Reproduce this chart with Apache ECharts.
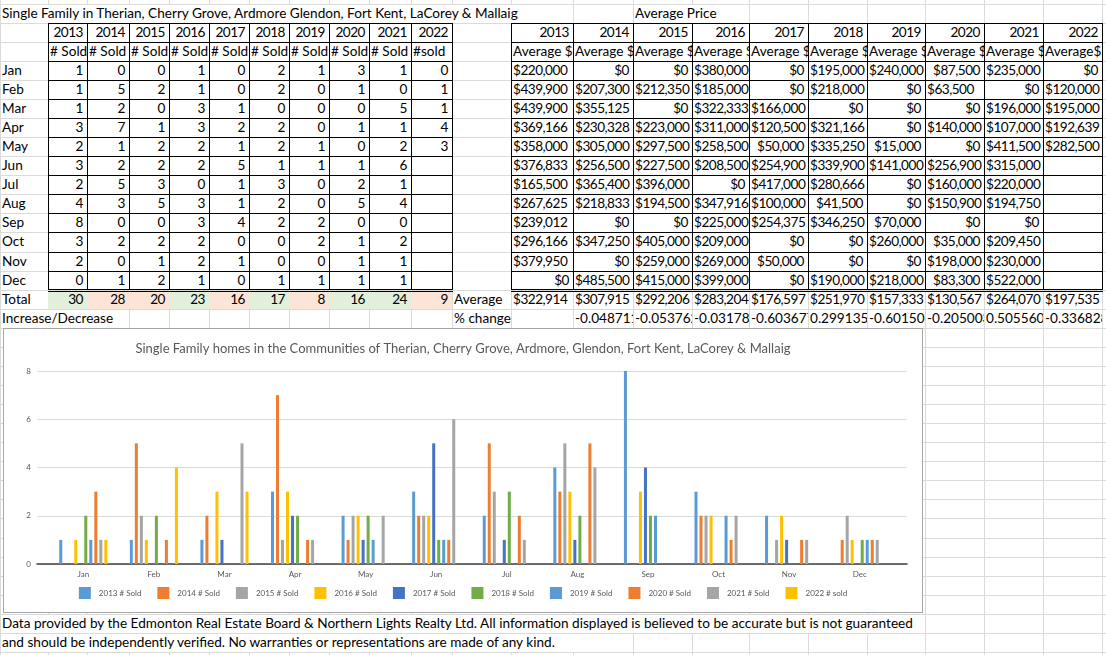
<!doctype html>
<html>
<head>
<meta charset="utf-8">
<style>
  html, body { margin: 0; padding: 0; background: #fff; }
  #sheet { position: relative; width: 1106px; height: 655px; overflow: hidden; font-family: Lato, sans-serif; font-size: 13.6px; color: #000; }
  .ln { position: absolute; }
  .c { position: absolute; white-space: nowrap; overflow: hidden; line-height: 17px; box-sizing: border-box; padding: 0 4px 0 1px; }
  .n { letter-spacing: -0.5px; }
  #frame { position: absolute; left: 3px; top: 328px; width: 920px; height: 285px; border: 1px solid #a6a6a6; box-sizing: border-box; background: #fff; }
  #main { width: 918px; height: 283px; }
</style>
</head>
<body>
<div id="sheet"><div id="frame"><div id="main"></div></div></div>
<script src="https://cdn.jsdelivr.net/npm/echarts@6/dist/echarts.min.js"></script>
<script>
var sheetTitle = 'Single Family in Therian, Cherry Grove, Ardmore Glendon, Fort Kent, LaCorey & Mallaig';
var chartTitle = 'Single Family homes in the Communities of Therian, Cherry Grove, Ardmore, Glendon, Fort Kent, LaCorey & Mallaig';
var footer1 = 'Data provided by the Edmonton Real Estate Board & Northern Lights Realty Ltd. All information displayed is believed to be accurate but is not guaranteed';
var footer2 = 'and should be independently verified. No warranties or representations are made of any kind.';

var months = ['Jan', 'Feb', 'Mar', 'Apr', 'May', 'Jun', 'Jul', 'Aug', 'Sep', 'Oct', 'Nov', 'Dec'];
var years = [2013, 2014, 2015, 2016, 2017, 2018, 2019, 2020, 2021, 2022];
var soldHeader = ['# Sold', '# Sold', '# Sold', '# Sold', '# Sold', '# Sold', '# Sold', '# Sold', '# Sold', '#sold'];
var priceHeader = ['Average $', 'Average $', 'Average $', 'Average $', 'Average $', 'Average $', 'Average $', 'Average $', 'Average $', 'Average$'];

// # sold per month (null = empty cell)
var sold2013 = [1, 1, 1, 3, 2, 3, 2, 4, 8, 3, 2, 0];
var sold2014 = [0, 5, 2, 7, 1, 2, 5, 3, 0, 2, 0, 1];
var sold2015 = [0, 2, 0, 1, 2, 2, 3, 5, 0, 2, 1, 2];
var sold2016 = [1, 1, 3, 3, 2, 2, 0, 3, 3, 2, 2, 1];
var sold2017 = [0, 0, 1, 2, 1, 5, 1, 1, 4, 0, 1, 0];
var sold2018 = [2, 2, 0, 2, 2, 1, 3, 2, 2, 0, 0, 1];
var sold2019 = [1, 0, 0, 0, 1, 1, 0, 0, 2, 2, 0, 1];
var sold2020 = [3, 1, 0, 1, 0, 1, 2, 5, 0, 1, 1, 1];
var sold2021 = [1, 0, 5, 1, 2, 6, 1, 4, 0, 2, 1, 1];
var sold2022 = [0, 1, 1, 4, 3, null, null, null, null, null, null, null];
// the chart's "2022 # sold" series does not follow the table column
var chartSold2022 = [1, 4, 3, 0, 0, 0, 0, 0, 0, 0, 0, 0];

// average price per month: strings are text cells (left), numbers are number cells (right)
var price2013 = ['$220,000', '$439,900', '$439,900', '$369,166', '$358,000', '$376,833', '$165,500', '$267,625', '$239,012', '$296,166', '$379,950', 0];
var price2014 = [0, '$207,300', '$355,125', '$230,328', '$305,000', '$256,500', '$365,400', '$218,833', 0, '$347,250', 0, '$485,500'];
var price2015 = [0, '$212,350', 0, '$223,000', '$297,500', '$227,500', '$396,000', '$194,500', 0, '$405,000', '$259,000', '$415,000'];
var price2016 = ['$380,000', '$185,000', '$322,333', '$311,000', '$258,500', '$208,500', 0, '$347,916', '$225,000', '$209,000', '$269,000', '$399,000'];
var price2017 = [0, 0, '$166,000', '$120,500', 50000, '$254,900', '$417,000', '$100,000', '$254,375', 0, 50000, 0];
var price2018 = ['$195,000', '$218,000', 0, '$321,166', '$335,250', '$339,900', '$280,666', 41500, '$346,250', 0, 0, '$190,000'];
var price2019 = ['$240,000', 0, 0, 0, 15000, '$141,000', 0, 0, 70000, '$260,000', 0, '$218,000'];
var price2020 = [87500, '$63,500', 0, '$140,000', 0, '$256,900', '$160,000', '$150,900', 0, 35000, '$198,000', 83300];
var price2021 = ['$235,000', 0, '$196,000', '$107,000', '$411,500', '$315,000', '$220,000', '$194,750', 0, '$209,450', '$230,000', '$522,000'];
var price2022 = [0, '$120,000', '$195,000', '$192,639', '$282,500', null, null, null, null, null, null, null];

var avgPrice = ['$322,914', '$307,915', '$292,206', '$283,204', '$176,597', '$251,970', '$157,333', '$130,567', '$264,070', '$197,535'];
var pctChange = [null, '-0.048711', '-0.053762', '-0.031783', '-0.603677', '0.299135', '-0.601505', '-0.205003', '0.505560', '-0.336828'];

var soldCols = [sold2013, sold2014, sold2015, sold2016, sold2017, sold2018, sold2019, sold2020, sold2021, sold2022];
var priceCols = [price2013, price2014, price2015, price2016, price2017, price2018, price2019, price2020, price2021, price2022];
var chartCols = [sold2013, sold2014, sold2015, sold2016, sold2017, sold2018, sold2019, sold2020, sold2021, chartSold2022];

// ---- spreadsheet ----
var sheet = document.getElementById('sheet');
var frame = document.getElementById('frame');
var colX = [0, 48, 87, 129, 169, 209, 249, 289, 329, 369, 411, 452, 511, 573, 633, 692, 749, 808, 867, 925, 984, 1043, 1102, 1161];

function rowTop(r) { return Math.round(3.6 + 19.07 * r); }

function box(x, y, w, h, bg) {
    var d = document.createElement('div');
    d.className = 'ln';
    d.style.cssText = 'left:' + x + 'px;top:' + y + 'px;width:' + w + 'px;height:' + h + 'px;background:' + bg;
    sheet.insertBefore(d, frame);
}

function cell(c, r, text, align, span, bg, numeric) {
    span = span || 1;
    var d = document.createElement('div');
    var top = rowTop(r) + 1;
    d.className = numeric ? 'c n' : 'c';
    d.style.left = (colX[c] + 1) + 'px';
    d.style.top = top + 'px';
    d.style.width = (colX[c + span] - colX[c] - 1) + 'px';
    d.style.height = (rowTop(r + 1) - top) + 'px';
    d.style.textAlign = align;
    if (bg) d.style.background = bg;
    d.textContent = text;
    sheet.insertBefore(d, frame);
}

function priceCell(c, r, v) {
    if (v === null || v === undefined) return;
    if (typeof v === 'number') cell(c, r, '$' + v.toLocaleString('en-US'), 'right', 1, null, true);
    else cell(c, r, v, 'left', 1, null, true);
}

// gridlines
for (var r = -1; r <= 35; r++) box(0, rowTop(r), 1106, 1, '#dadada');
colX.forEach(function (x) { box(x, 0, 1, 655, '#dadada'); });

// totals with increase / decrease fill
var totals = soldCols.map(function (col) {
    return col.reduce(function (s, v) { return s + (v || 0); }, 0);
});
totals.forEach(function (t, k) {
    var up = k === 0 || t > totals[k - 1];
    box(colX[1 + k], rowTop(15) + 2, colX[2 + k] - colX[1 + k], rowTop(16) - rowTop(15) - 2, up ? '#e2efda' : '#fce4d6');
});

// black cell borders, double line under Dec
function borders(c0, c1, r0, r1) {
    var w = colX[c1] - colX[c0] + 1;
    for (var r = r0; r < r1; r++) box(colX[c0], rowTop(r), w, 1, '#000');
    for (var c = c0; c <= c1; c++) box(colX[c], rowTop(r0), 1, rowTop(r1) - rowTop(r0), '#000');
    box(colX[c0], rowTop(r1) - 1, w, 1, '#000');
    box(colX[c0], rowTop(r1) + 1, w, 1, '#000');
}
borders(1, 11, 1, 15);
borders(12, 22, 1, 15);

// texts
cell(0, 0, sheetTitle, 'left', 13, '#fff');
cell(14, 0, 'Average Price', 'left', 2, '#fff');
years.forEach(function (y, k) {
    cell(1 + k, 1, String(y), 'right', 1, null, true);
    cell(12 + k, 1, String(y), 'right', 1, null, true);
    cell(1 + k, 2, soldHeader[k], 'left');
    cell(12 + k, 2, priceHeader[k], 'left');
});
months.forEach(function (m, i) {
    cell(0, 3 + i, m, 'left');
    soldCols.forEach(function (col, k) {
        if (col[i] !== null) cell(1 + k, 3 + i, String(col[i]), 'right', 1, null, true);
    });
    priceCols.forEach(function (col, k) { priceCell(12 + k, 3 + i, col[i]); });
});
cell(0, 15, 'Total', 'left');
totals.forEach(function (t, k) { cell(1 + k, 15, String(t), 'right', 1, null, true); });
cell(11, 15, 'Average', 'left');
avgPrice.forEach(function (v, k) { cell(12 + k, 15, v, 'left', 1, null, true); });
cell(0, 16, 'Increase/Decrease', 'left', 3, '#fff');
cell(11, 16, '% change', 'left');
pctChange.forEach(function (v, k) { if (v !== null) cell(12 + k, 16, v, 'left'); });
cell(0, 32, footer1, 'left', 19, '#fff');
cell(0, 33, footer2, 'left', 14, '#fff');

// ---- chart ----
var chart = echarts.init(document.getElementById('main'));
var colors = ['#5b9bd5', '#ed7d31', '#a5a5a5', '#ffc000', '#4472c4', '#70ad47', '#5b9bd5', '#ed7d31', '#a5a5a5', '#ffc000'];
var labelStyle = { color: '#595959', fontSize: 8, fontFamily: 'Lato' };

chart.setOption({
    animation: false,
    title: {
        text: chartTitle,
        left: 'center',
        top: 13,
        padding: 0,
        textStyle: { color: '#595959', fontSize: 13, fontWeight: 'normal', fontFamily: 'Lato' }
    },
    legend: {
        top: 258,
        left: 'center',
        padding: 0,
        icon: 'rect',
        itemWidth: 12,
        itemHeight: 12,
        itemGap: 16,
        textStyle: { color: '#595959', fontSize: 8, fontFamily: 'Lato', padding: [0, 0, 0, 3] }
    },
    grid: [
        { left: 33, right: 15, top: 42, bottom: 48 },
        { left: 44, right: 27, top: 42, bottom: 48 }
    ],
    xAxis: [{
        gridIndex: 0,
        type: 'value',
        min: 0,
        max: 1,
        axisLine: { show: true, lineStyle: { color: '#404040', width: 1.5 } },
        axisTick: { show: false },
        axisLabel: { show: false },
        splitLine: { show: false }
    }, {
        gridIndex: 1,
        type: 'category',
        data: months,
        axisLine: { show: false },
        axisTick: { show: false },
        axisLabel: Object.assign({ margin: 6 }, labelStyle)
    }],
    yAxis: [{
        gridIndex: 0,
        type: 'value',
        min: 0,
        max: 8,
        interval: 2,
        axisLine: { show: false },
        axisTick: { show: false },
        axisLabel: Object.assign({ margin: 6 }, labelStyle),
        splitLine: { lineStyle: { color: '#d9d9d9' } }
    }, {
        gridIndex: 1,
        type: 'value',
        min: 0,
        max: 8,
        interval: 2,
        show: false
    }],
    series: chartCols.map(function (col, k) {
        return {
            name: years[k] + (years[k] === 2022 ? ' # sold' : ' # Sold'),
            type: 'bar',
            xAxisIndex: 1,
            yAxisIndex: 1,
            barWidth: 3,
            barGap: '67%',
            itemStyle: { color: colors[k] },
            data: col
        };
    })
});

window.onresize = chart.resize;
</script>
</body>
</html>
